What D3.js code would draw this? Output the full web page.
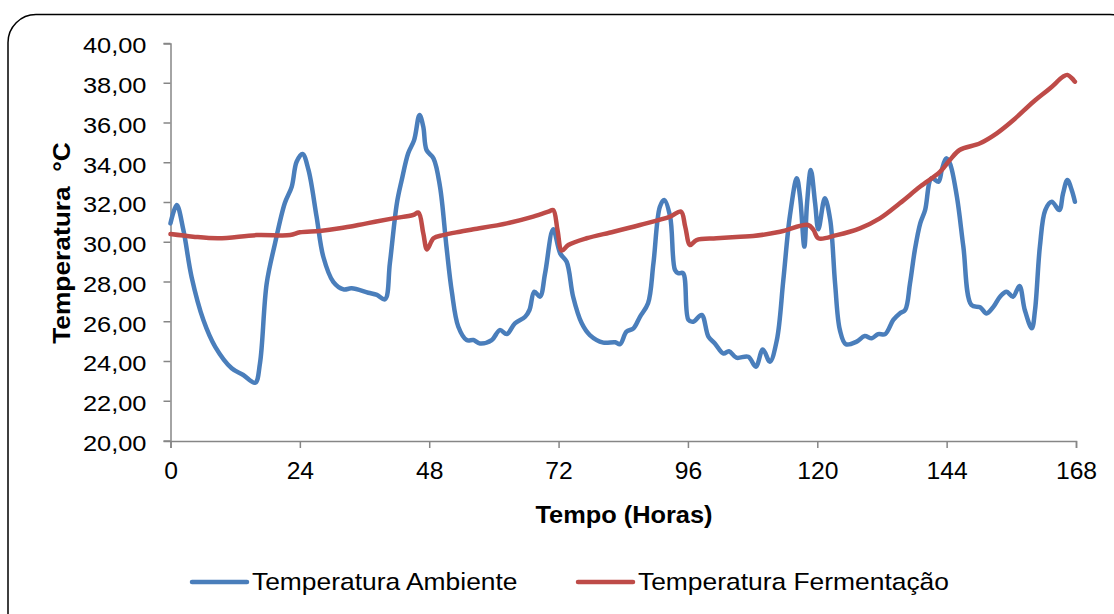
<!DOCTYPE html>
<html>
<head>
<meta charset="utf-8">
<script src="https://cdn.jsdelivr.net/npm/d3@7"></script>
<style>
  body { margin: 0; background: #fff; }
  text { font-family: "Liberation Sans", Arial, sans-serif; fill: #000; }
</style>
</head>
<body>
<script>
// hours / readings
const hoursAmb = [0, 1.15, 2.4, 3.9, 6.1, 8.3, 11.35, 13.5, 15.7, 16.6, 17.85, 19.4, 21.2, 22.5, 23.4, 24.5, 25.6, 27.1, 28.35, 30.2, 32.1, 33.6, 36.7, 38.3, 39.8, 40.7, 42.0, 42.9, 44.1, 45.2, 46.2, 46.9, 47.5, 48.8, 50.0, 51.2, 52.2, 53.4, 54.95, 56.2, 57.4, 59.6, 61.1, 62.4, 63.9, 65.8, 66.6, 67.5, 68.55, 69.5, 71.0, 72.3, 73.5, 74.7, 76.3, 77.8, 80.3, 82.5, 83.4, 84.6, 85.9, 87.1, 88.6, 89.6, 90.8, 91.6, 92.7, 93.6, 94.2, 95.1, 96.1, 97.0, 98.55, 99.8, 101.0, 102.6, 103.6, 105.0, 107.2, 108.6, 109.9, 111.2, 112.5, 113.7, 114.9, 116.2, 116.8, 117.6, 118.1, 118.8, 119.6, 120.2, 121.4, 122.4, 123.3, 124.2, 125.3, 127.3, 128.8, 130.1, 131.3, 132.6, 134.1, 135.3, 136.3, 137.2, 138.1, 139.1, 140.0, 141.2, 142.5, 143.1, 143.9, 144.6, 145.9, 147.1, 148.6, 150.2, 151.4, 152.7, 153.9, 155.1, 156.3, 157.5, 158.5, 159.8, 160.4, 161.3, 162.3, 163.5, 164.9, 165.6, 166.4, 167.2, 167.8];
const tempAmb = [30.95, 31.87, 30.6, 28.27, 26.09, 24.74, 23.66, 23.32, 22.93, 23.91, 27.93, 29.95, 31.96, 32.8, 34.05, 34.44, 33.64, 31.29, 29.27, 28.01, 27.63, 27.68, 27.46, 27.35, 27.13, 28.94, 31.96, 33.13, 34.48, 35.14, 36.4, 35.81, 34.64, 34.22, 32.8, 29.78, 27.5, 25.75, 25.08, 25.08, 24.91, 25.08, 25.58, 25.38, 25.92, 26.25, 26.59, 27.51, 27.26, 28.44, 30.65, 29.44, 29.02, 27.26, 25.92, 25.33, 24.95, 24.97, 24.87, 25.5, 25.67, 26.25, 26.93, 28.94, 31.79, 32.13, 31.29, 28.6, 28.44, 28.44, 26.09, 26.0, 26.34, 25.25, 24.91, 24.4, 24.52, 24.19, 24.24, 23.74, 24.61, 23.99, 25.08, 28.1, 31.29, 33.22, 32.29, 29.78, 31.96, 33.64, 31.96, 30.65, 32.21, 31.12, 27.93, 25.58, 24.87, 25.0, 25.28, 25.17, 25.38, 25.38, 26.09, 26.42, 26.59, 27.93, 29.61, 30.95, 31.62, 33.22, 33.05, 33.64, 34.22, 33.97, 32.29, 29.78, 26.84, 26.73, 26.42, 26.76, 27.26, 27.51, 27.26, 27.8, 26.59, 25.67, 26.59, 29.78, 31.62, 32.04, 31.62, 32.46, 33.13, 32.63, 32.04];

const hoursFerm = [0, 4.2, 8.9, 16, 22.2, 24, 27.7, 31.4, 36.4, 41.3, 45, 46, 46.9, 47.6, 48.8, 50.6, 53.7, 56.2, 62.4, 67.3, 70.1, 71.0, 71.8, 72.6, 73.8, 77.2, 82.2, 87.1, 92.7, 94.7, 95.5, 96.4, 97.6, 101.3, 105.7, 108.1, 113.1, 118.3, 119.3, 120.2, 123.6, 127.9, 131.6, 135.3, 139.1, 142.8, 144.6, 146.4, 150.2, 153.3, 156.4, 160.1, 163.2, 165.6, 166.4, 167.8];
const tempFerm = [30.41, 30.28, 30.2, 30.36, 30.36, 30.5, 30.57, 30.7, 30.95, 31.2, 31.37, 31.49, 30.45, 29.64, 30.2, 30.36, 30.53, 30.65, 30.95, 31.29, 31.54, 31.62, 30.62, 29.58, 29.86, 30.2, 30.53, 30.87, 31.29, 31.54, 30.78, 29.86, 30.11, 30.2, 30.28, 30.31, 30.53, 30.87, 30.62, 30.2, 30.36, 30.7, 31.2, 31.96, 32.8, 33.55, 34.14, 34.64, 34.98, 35.48, 36.15, 37.07, 37.75, 38.33, 38.42, 38.08];

const xTicks = [0, 24, 48, 72, 96, 120, 144, 168];
const yTicks = [20, 22, 24, 26, 28, 30, 32, 34, 36, 38, 40];
const seriesNames = ["Temperatura Ambiente", "Temperatura Fermentação"];
const seriesColors = ["#4a7ebb", "#be4b48"];

const width = 1114;
const height = 614;

let svg = d3
  .select("body")
  .append("svg")
  .attr("width", width)
  .attr("height", height);

// rounded frame, runs off the right and bottom edge
svg
  .append("rect")
  .attr("x", 8)
  .attr("y", 14.5)
  .attr("width", 1130)
  .attr("height", 640)
  .attr("rx", 28)
  .attr("fill", "none")
  .attr("stroke", "#000")
  .attr("stroke-width", 1.5);

let x = d3.scaleLinear().domain([0, 168]).range([170.5, 1076]);
let y = d3.scaleLinear().domain([20, 40]).range([441, 43.5]);

// y axis
let yAxis = svg
  .append("g")
  .attr("transform", `translate(${x(0)},0)`)
  .call(d3.axisLeft(y).tickValues(yTicks).tickSize(7).tickFormat((d) => d3.format(".2f")(d).replace(".", ",")));

yAxis.selectAll("text")
  .attr("x", 0)
  .attr("dy", null)
  .attr("dominant-baseline", "central")
  .attr("transform", (d) => `translate(-24,${y(d) + 2}) scale(1.13,1)`)
  .attr("y", 0)
  .style("font-size", "22.5px");
yAxis.selectAll(".tick").attr("transform", "translate(0,0)");
yAxis.selectAll(".tick line").attr("y1", (d) => y(d)).attr("y2", (d) => y(d));

// x axis
let xAxis = svg
  .append("g")
  .attr("transform", `translate(0,${y(20)})`)
  .call(d3.axisBottom(x).tickValues(xTicks).tickSize(7).tickFormat(d3.format("d")));

xAxis.selectAll("text")
  .attr("y", 0)
  .attr("dy", null)
  .attr("transform", `translate(0,38) scale(1.05,1)`)
  .style("font-size", "23.5px");

svg.selectAll(".domain, .tick line")
  .attr("stroke", "#868686")
  .attr("stroke-width", 1.5);
svg.selectAll(".tick text").attr("fill", "#000").attr("font-family", null);

// axis titles
svg
  .append("text")
  .attr("transform", `translate(624,523) scale(1.08,1)`)
  .attr("text-anchor", "middle")
  .style("font-size", "23.5px")
  .style("font-weight", "bold")
  .text("Tempo (Horas)");

svg
  .append("text")
  .attr("transform", `translate(70,243) rotate(-90) scale(1.12,1)`)
  .attr("text-anchor", "middle")
  .style("font-size", "23.5px")
  .style("font-weight", "bold")
  .style("white-space", "pre")
  .text("Temperatura  °C");

// lines
let line = d3
  .line()
  .x((d) => x(d[0]))
  .y((d) => y(d[1]))
  .curve(d3.curveCatmullRom.alpha(0.5));

let series = [
  d3.zip(hoursAmb, tempAmb),
  d3.zip(hoursFerm, tempFerm)
];

svg
  .selectAll("path.serie")
  .data(series)
  .join("path")
  .attr("class", "serie")
  .attr("d", line)
  .attr("fill", "none")
  .attr("stroke", (d, i) => seriesColors[i])
  .attr("stroke-width", 4.5)
  .attr("stroke-linejoin", "round")
  .attr("stroke-linecap", "round");

// legend
let legendX = [192, 578];
let legend = svg
  .selectAll("g.legend")
  .data(seriesNames)
  .join("g")
  .attr("class", "legend")
  .attr("transform", (d, i) => `translate(${legendX[i]},582)`);

legend
  .append("line")
  .attr("x1", 0)
  .attr("x2", 55)
  .attr("stroke", (d, i) => seriesColors[i])
  .attr("stroke-width", 4.5)
  .attr("stroke-linecap", "round");

legend
  .append("text")
  .attr("transform", `translate(60,8) scale(1.1,1)`)
  .style("font-size", "24px")
  .text((d) => d);
</script>
</body>
</html>
